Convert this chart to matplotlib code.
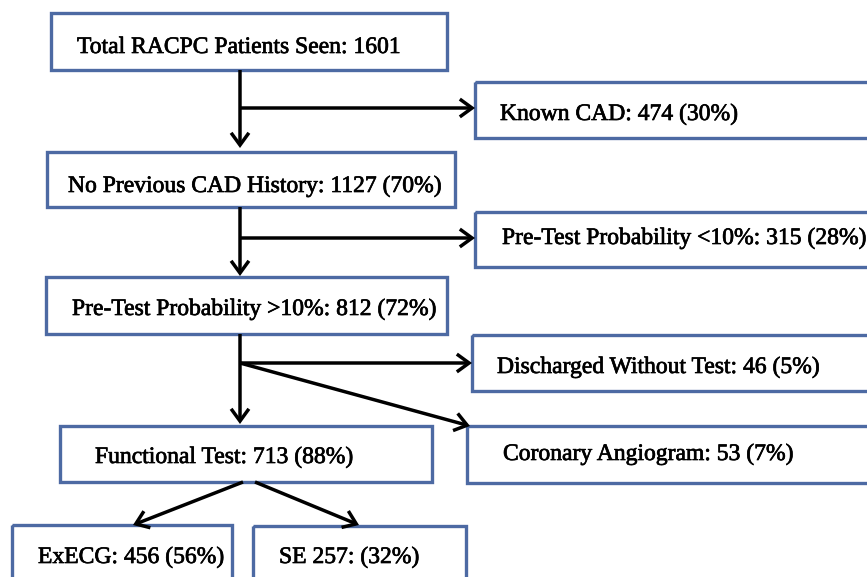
import matplotlib
matplotlib.use("Agg")
import matplotlib.pyplot as plt
import matplotlib.patheffects as pe
from matplotlib.patches import Rectangle, FancyArrowPatch

# ---- data ----
labels = [
    "Total RACPC Patients Seen: 1601",
    "Known CAD: 474 (30%)",
    "No Previous CAD History: 1127 (70%)",
    "Pre-Test Probability <10%: 315 (28%)",
    "Pre-Test Probability >10%: 812 (72%)",
    "Discharged Without Test: 46 (5%)",
    "Coronary Angiogram: 53 (7%)",
    "Functional Test: 713 (88%)",
    "ExECG: 456 (56%)",
    "SE 257: (32%)",
]

# ---- layout (pixel coordinates: x0, y0, x1, y1, text_x, text_baseline) ----
boxes = [
    (51, 13, 447, 70, 77, 53),
    (475, 82, 890, 138, 500, 120),
    (47, 152, 455, 207, 68, 192),
    (475, 212, 890, 267, 502, 244),
    (46, 277, 447, 334, 72, 315),
    (472, 335, 890, 391, 497, 373),
    (467, 426, 890, 483, 503, 460),
    (60, 426, 432, 482, 95, 463),
    (12, 525, 232, 600, 38, 563),
    (253, 526, 466, 600, 279, 563),
]

W, H = 867, 577
fig = plt.figure(figsize=(W / 100, H / 100), dpi=100)
ax = fig.add_axes([0, 0, 1, 1])
ax.set_xlim(0, W)
ax.set_ylim(H, 0)
ax.axis("off")

edge = "#4d6aa3"
for (x0, y0, x1, y1, tx, ty), lab in zip(boxes, labels):
    ax.add_patch(Rectangle((x0, y0), x1 - x0, y1 - y0, fill=False,
                           edgecolor=edge, linewidth=2.4))
    ax.text(tx, ty, lab, ha="left", va="baseline",
            family="Liberation Serif", fontsize=17, color="black",
            path_effects=[pe.withStroke(linewidth=0.5, foreground="black")])

lw = 2.5
def arrow(p, q):
    ax.add_patch(FancyArrowPatch(p, q, arrowstyle="->,head_length=0.55,head_width=0.4",
                                 mutation_scale=16, color="black", lw=lw,
                                 shrinkA=0, shrinkB=0, joinstyle="miter",
                                 capstyle="butt"))

# Total -> No previous, with branch to Known CAD
arrow((240, 70), (240, 148))
arrow((240, 108), (475, 108))
# No previous -> Pre-test >10%, branch to <10%
arrow((240, 207), (240, 276))
arrow((240, 238), (475, 238))
# Pre-test >10% -> functional, discharged, angiogram
arrow((240, 334), (240, 424))
arrow((240, 363), (472, 363))
arrow((240, 363), (470, 426))
# Functional -> ExECG, SE
arrow((243, 482), (133, 525))
arrow((255, 482), (359, 525))

fig.savefig("out.png", dpi=100, facecolor="white")
